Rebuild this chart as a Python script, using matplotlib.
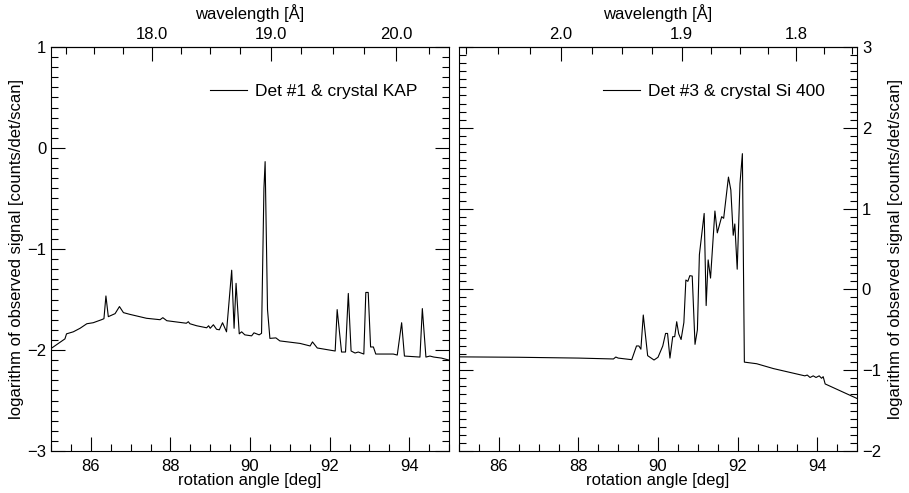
import numpy as np
import matplotlib
matplotlib.use('Agg')
import matplotlib.pyplot as plt
from matplotlib.ticker import MultipleLocator, FixedLocator, FormatStrFormatter

plt.rcParams['font.family'] = ['Liberation Sans', 'DejaVu Sans']
plt.rcParams['font.size'] = 12

# Det #1, crystal KAP: rotation angle [deg] and log signal
ang1 = [85.02, 85.35, 85.39, 85.56, 85.73, 85.90, 86.06, 86.27, 86.33, 86.38, 86.44,
        86.61, 86.72, 86.82, 86.98, 87.40, 87.74, 87.81, 87.91, 88.40, 88.45, 88.49,
        88.66, 88.91, 88.96, 89.00, 89.08, 89.16, 89.23, 89.31, 89.41, 89.54, 89.60,
        89.65, 89.73, 89.79, 89.87, 90.04, 90.10, 90.23, 90.29, 90.35, 90.38, 90.44,
        90.50, 90.65, 90.75, 91.26, 91.51, 91.57, 91.69, 92.14, 92.19, 92.30, 92.40,
        92.47, 92.54, 92.64, 92.72, 92.86, 92.91, 92.97, 93.03, 93.10, 93.16, 93.60,
        93.70, 93.81, 93.88, 94.27, 94.33, 94.42, 94.52, 94.62, 94.81, 95.00]
sig1 = [-1.98, -1.89, -1.84, -1.82, -1.785, -1.74, -1.73, -1.70, -1.69, -1.465, -1.67,
        -1.64, -1.57, -1.63, -1.647, -1.686, -1.70, -1.68, -1.71, -1.735, -1.72, -1.74,
        -1.76, -1.78, -1.76, -1.785, -1.75, -1.795, -1.80, -1.73, -1.82, -1.21, -1.785,
        -1.34, -1.84, -1.82, -1.85, -1.86, -1.83, -1.85, -1.835, -0.40, -0.135, -1.60,
        -1.885, -1.88, -1.91, -1.935, -1.96, -1.92, -1.98, -2.01, -1.60, -2.02, -2.02,
        -1.44, -2.01, -2.03, -2.02, -2.04, -1.43, -1.43, -1.97, -1.97, -2.04, -2.04,
        -2.05, -1.73, -2.06, -2.07, -1.59, -2.07, -2.06, -2.07, -2.08, -2.10]

# Det #3, crystal Si 400
ang3 = [85.00, 86.50, 88.00, 88.88, 88.94, 89.00, 89.34, 89.46, 89.52, 89.57, 89.63,
        89.74, 89.90, 90.00, 90.12, 90.19, 90.24, 90.30, 90.37, 90.42, 90.47, 90.52,
        90.58, 90.65, 90.70, 90.75, 90.80, 90.86, 90.93, 90.99, 91.04, 91.16, 91.21,
        91.26, 91.32, 91.43, 91.49, 91.60, 91.65, 91.77, 91.83, 91.89, 91.93, 91.99,
        92.06, 92.12, 92.17, 92.48, 92.90, 93.69, 93.75, 93.82, 93.90, 93.97, 94.05,
        94.11, 94.15, 94.20, 95.00]
sig3 = [-0.835, -0.84, -0.85, -0.861, -0.837, -0.85, -0.87, -0.70, -0.70, -0.74, -0.317,
        -0.82, -0.874, -0.84, -0.70, -0.545, -0.545, -0.85, -0.585, -0.585, -0.40, -0.55,
        -0.62, -0.41, 0.116, 0.10, 0.17, 0.165, -0.68, -0.50, 0.43, 0.94, -0.20,
        0.365, 0.14, 0.97, 0.70, 0.90, 0.88, 1.39, 1.23, 0.67, 0.81, 0.25,
        1.31, 1.68, -0.90, -0.92, -0.98, -1.07, -1.06, -1.09, -1.07, -1.09, -1.07,
        -1.10, -1.08, -1.17, -1.35]

# wavelength tick values on the top axes
wl1_major = [18.0, 19.0, 20.0]
wl3_major = [2.0, 1.9, 1.8]

label1 = 'Det #1 & crystal KAP'
label3 = 'Det #3 & crystal Si 400'
ylab = 'logarithm of observed signal [counts/det/scan]'

# Bragg relation: wavelength vs rotation angle
def kap_fwd(a):
    return 26.63 * np.sin(np.radians(np.asarray(a, float) - 45.0))

def kap_inv(l):
    return 45.0 + np.degrees(np.arcsin(np.clip(np.asarray(l, float) / 26.63, -1, 1)))

def si_fwd(a):
    return 2.7153 * np.sin(np.radians(135.0 - np.asarray(a, float)))

def si_inv(l):
    return 135.0 - np.degrees(np.arcsin(np.clip(np.asarray(l, float) / 2.7153, -1, 1)))


def style(ax):
    ax.tick_params(which='both', direction='in', width=0.8)
    ax.tick_params(which='major', length=10)
    ax.tick_params(which='minor', length=5)
    for s in ax.spines.values():
        s.set_linewidth(0.8)


fig = plt.figure(figsize=(9.09, 4.93), dpi=100)
W, H = 909., 493.
ax1 = fig.add_axes([51 / W, 42 / H, 398 / W, 404 / H])
ax2 = fig.add_axes([459 / W, 42 / H, 398 / W, 404 / H])

# left panel
ax1.plot(ang1, sig1, color='black', lw=0.8, label=label1)
ax1.set_xlim(85, 95)
ax1.set_ylim(-3, 1)
ax1.xaxis.set_major_locator(MultipleLocator(2))
ax1.xaxis.set_minor_locator(MultipleLocator(0.5))
ax1.yaxis.set_major_locator(MultipleLocator(1))
ax1.yaxis.set_minor_locator(MultipleLocator(0.1))
ax1.tick_params(which='both', left=True, right=True, top=False)
ax1.tick_params(axis='x', pad=6)
ax1.set_xlabel('rotation angle [deg]', labelpad=-1)
ax1.set_ylabel(ylab, labelpad=2)
style(ax1)
sec1 = ax1.secondary_xaxis('top', functions=(kap_fwd, kap_inv))
sec1.xaxis.set_major_locator(FixedLocator(wl1_major))
sec1.xaxis.set_minor_locator(MultipleLocator(0.25))
sec1.xaxis.set_major_formatter(FormatStrFormatter('%.1f'))
sec1.set_xlabel('wavelength [Å]', labelpad=6)
style(sec1)
ax1.legend(loc='center left', bbox_to_anchor=(0.40, 0.889), frameon=False,
           borderpad=0, borderaxespad=0, handlelength=2.1, handletextpad=0.5,
           fontsize=12.5)

# right panel
ax2.plot(ang3, sig3, color='black', lw=0.8, label=label3)
ax2.set_xlim(85, 95)
ax2.set_ylim(-2, 3)
ax2.xaxis.set_major_locator(MultipleLocator(2))
ax2.xaxis.set_minor_locator(MultipleLocator(0.5))
ax2.yaxis.set_major_locator(MultipleLocator(1))
ax2.yaxis.set_minor_locator(MultipleLocator(0.1))
ax2.yaxis.tick_right()
ax2.yaxis.set_label_position('right')
ax2.tick_params(which='both', left=True, right=True, top=False)
ax2.tick_params(axis='x', pad=6)
ax2.set_xlabel('rotation angle [deg]', labelpad=-1)
ax2.set_ylabel(ylab, labelpad=5)
style(ax2)
sec2 = ax2.secondary_xaxis('top', functions=(si_fwd, si_inv))
sec2.xaxis.set_major_locator(FixedLocator(wl3_major))
sec2.xaxis.set_minor_locator(MultipleLocator(0.025))
sec2.xaxis.set_major_formatter(FormatStrFormatter('%.1f'))
sec2.set_xlabel('wavelength [Å]', labelpad=6)
style(sec2)
ax2.legend(loc='center left', bbox_to_anchor=(0.362, 0.889), frameon=False,
           borderpad=0, borderaxespad=0, handlelength=2.1, handletextpad=0.5,
           fontsize=12.5)

fig.savefig('out.png', dpi=100)
